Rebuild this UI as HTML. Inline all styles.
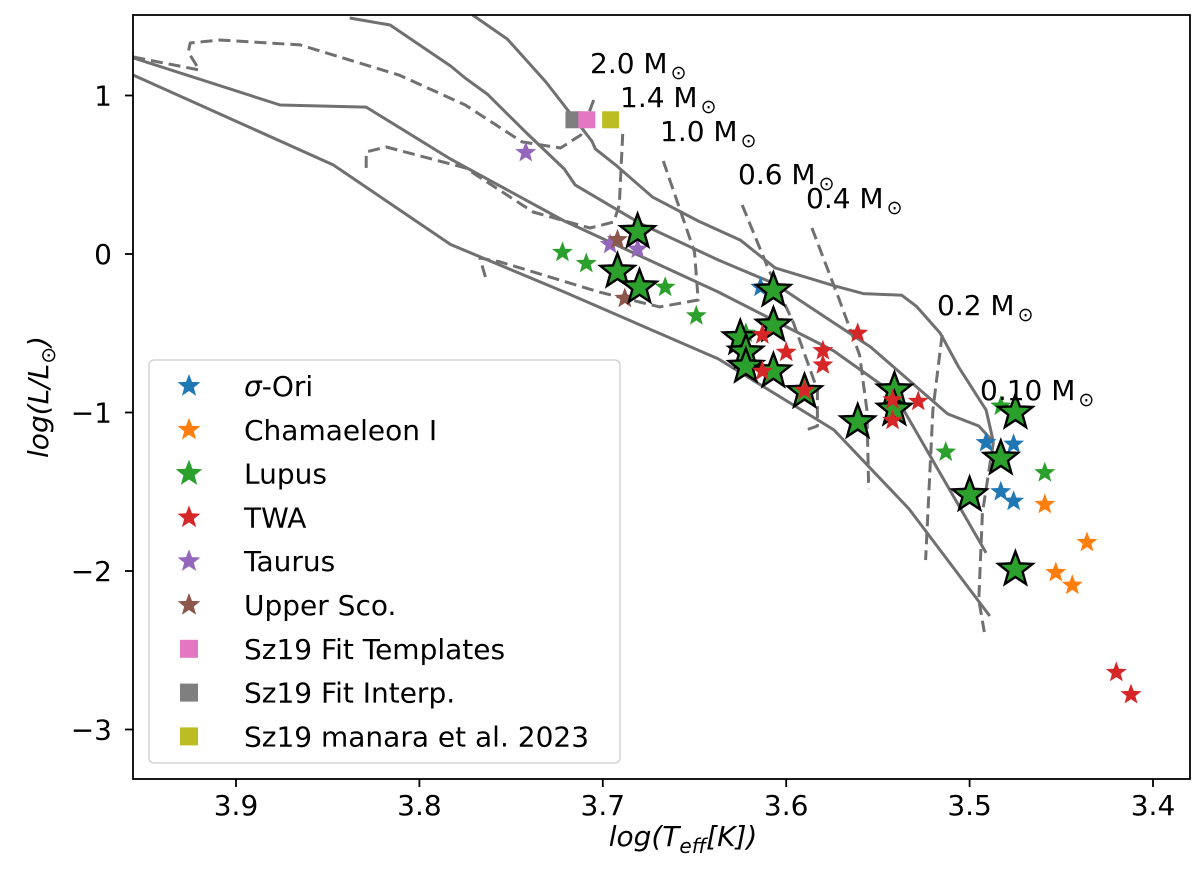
<!DOCTYPE html>
<html><head><meta charset="utf-8"><style>
html,body{margin:0;padding:0;background:#fff;}
svg{display:block;font-family:"DejaVu Sans","Liberation Sans",sans-serif;}
</style></head><body>
<svg id="chart" width="1200" height="887" viewBox="0 0 1200 887" xmlns="http://www.w3.org/2000/svg">
<defs><clipPath id="clip"><rect x="133" y="15" width="1057" height="764"/></clipPath></defs>
<rect width="1200" height="887" fill="#fff"/>
<g id="tracks" clip-path="url(#clip)"></g>
<g id="marks" clip-path="url(#clip)"></g>
<g id="labels"></g>
<rect x="133" y="15" width="1057" height="764" fill="none" stroke="#000" stroke-width="1.8"/>
<g id="axes"></g>
<g id="legend"></g>
<text x="683" y="846" font-size="28" text-anchor="middle" font-style="italic">log(T<tspan font-size="20" dy="7">eff</tspan><tspan dy="-7">[K])</tspan></text>
<text transform="translate(48,397) rotate(-90)" font-size="28" text-anchor="middle" font-style="italic">log(L/L<tspan font-size="20" dy="7" font-style="normal">⊙</tspan><tspan dy="-7">)</tspan></text>
</svg>
<script>
const xTicks=[3.9,3.8,3.7,3.6,3.5,3.4];
const yTicks=[1,0,-1,-2,-3];
const yTickLabels=["1","0","−1","−2","−3"];
const trackA_T=[3.771,3.752,3.731,3.706,3.704,3.693,3.673,3.648,3.625,3.606,3.574,3.558,3.537,3.529,3.516,3.506,3.491,3.487];
const trackA_L=[1.508,1.356,1.085,0.713,0.662,0.562,0.360,0.208,0.088,-0.088,-0.200,-0.250,-0.260,-0.330,-0.500,-0.713,-0.984,-1.186];
const trackB_T=[3.838,3.816,3.783,3.775,3.763,3.741,3.721,3.715,3.679,3.637,3.606,3.574,3.554,3.512,3.495,3.487];
const trackB_L=[1.489,1.445,1.186,1.110,1.009,0.757,0.536,0.435,0.189,-0.038,-0.189,-0.435,-0.587,-1.009,-1.085,-1.186];
const trackC_T=[3.956,3.876,3.829,3.783,3.721,3.637,3.574,3.541,3.491];
const trackC_L=[1.237,0.940,0.927,0.599,0.208,-0.240,-0.612,-0.883,-1.886];
const trackD_T=[3.956,3.847,3.783,3.721,3.637,3.574,3.533,3.489];
const trackD_L=[1.129,0.562,0.060,-0.240,-0.662,-1.110,-1.609,-2.284];
const m20_T=[3.956,3.920,3.926,3.925,3.909,3.865,3.811,3.775,3.744,3.723,3.712,3.704];
const m20_L=[1.243,1.161,1.274,1.331,1.350,1.319,1.129,0.940,0.707,0.669,0.751,1.003];
const m14_T=[3.829,3.829,3.818,3.775,3.738,3.707,3.694,3.691,3.689];
const m14_L=[0.543,0.644,0.675,0.543,0.265,0.164,0.202,0.309,0.795];
const m10_T=[3.764,3.767,3.756,3.702,3.680,3.669,3.648,3.650,3.667];
const m10_L=[-0.145,-0.025,-0.050,-0.240,-0.303,-0.334,-0.290,0.013,0.587];
const m06_T=[3.624,3.610,3.596,3.583,3.583,3.589];
const m06_L=[0.309,-0.088,-0.435,-0.858,-1.085,-1.110];
const m04_T=[3.586,3.571,3.560,3.556,3.555];
const m04_L=[0.164,-0.290,-0.637,-0.984,-1.483];
const m02_T=[3.515,3.520,3.524];
const m02_L=[-0.511,-0.984,-1.931];
const m01_T=[3.487,3.493,3.495,3.492];
const m01_L=[-1.186,-1.634,-2.183,-2.385];
const sigOri_T=[3.614,3.491,3.476,3.483,3.476];
const sigOri_L=[-0.21,-1.19,-1.20,-1.50,-1.56];
const cha_T=[3.459,3.436,3.453,3.444];
const cha_L=[-1.58,-1.82,-2.01,-2.09];
const lupusS_T=[3.722,3.709,3.666,3.649,3.622,3.483,3.513,3.459];
const lupusS_L=[0.01,-0.06,-0.21,-0.39,-0.50,-0.96,-1.25,-1.38];
const lupusB_T=[3.681,3.692,3.680,3.607,3.607,3.625,3.622,3.622,3.607,3.590,3.561,3.541,3.541,3.475,3.483,3.500,3.475];
const lupusB_L=[0.14,-0.11,-0.21,-0.23,-0.45,-0.53,-0.62,-0.71,-0.74,-0.87,-1.06,-0.86,-0.98,-1.00,-1.29,-1.52,-1.99];
const twa_T=[3.613,3.600,3.613,3.580,3.580,3.590,3.561,3.542,3.542,3.528,3.420,3.412];
const twa_L=[-0.51,-0.62,-0.74,-0.61,-0.70,-0.86,-0.50,-0.92,-1.05,-0.93,-2.64,-2.78];
const tau_T=[3.742,3.696,3.681];
const tau_L=[0.64,0.06,0.03];
const usco_T=[3.692,3.688];
const usco_L=[0.09,-0.28];
const sqTemplates=[3.709,0.85], sqInterp=[3.716,0.85], sqManara=[3.696,0.85];
const massLabels=["2.0 M","1.4 M","1.0 M","0.6 M","0.4 M","0.2 M","0.10 M"];

const NS="http://www.w3.org/2000/svg";
const X=t=>236+(3.9-t)*1834;
const Y=l=>254-l*158.5;
function el(tag,attrs,parent){const e=document.createElementNS(NS,tag);for(const k in attrs)e.setAttribute(k,attrs[k]);parent.appendChild(e);return e;}
const tracks=document.getElementById('tracks'),marks=document.getElementById('marks'),axes=document.getElementById('axes'),labels=document.getElementById('labels'),legend=document.getElementById('legend');
function line(T,L,dashed,name){
  const d=T.map((t,i)=>(i?'L':'M')+X(t).toFixed(1)+','+Y(L[i]).toFixed(1)).join('');
  const p=el('path',{d:d,fill:'none',stroke:'#707070','stroke-width':3,'stroke-linejoin':'round'},tracks);
  if(dashed)p.setAttribute('stroke-dasharray','12,6');
  
  
}
line(trackA_T,trackA_L,false,'track-a');line(trackB_T,trackB_L,false,'track-b');line(trackC_T,trackC_L,false,'track-c');line(trackD_T,trackD_L,false,'track-d');
line(m20_T,m20_L,true,'mass-track-2.0');line(m14_T,m14_L,true,'mass-track-1.4');line(m10_T,m10_L,true,'mass-track-1.0');line(m06_T,m06_L,true,'mass-track-0.6');line(m04_T,m04_L,true,'mass-track-0.4');line(m02_T,m02_L,true,'mass-track-0.2');line(m01_T,m01_L,true,'mass-track-0.10');
function starD(cx,cy,r){let s='';for(let i=0;i<10;i++){const rr=i%2?r*0.42:r;const a=-Math.PI/2+i*Math.PI/5;s+=(i?'L':'M')+(cx+rr*Math.cos(a)).toFixed(1)+','+(cy+rr*Math.sin(a)).toFixed(1);}return s+'Z';}
function star(parent,cx,cy,r,fill,outline,name){const p=el('path',{d:starD(cx,cy,r),fill:fill},parent);if(outline){p.setAttribute('stroke','#000');p.setAttribute('stroke-width',2.4);p.setAttribute('stroke-linejoin','miter');}}
function series(T,L,r,fill,outline,name){T.forEach((t,i)=>star(marks,X(t),Y(L[i]),r,fill,outline,name));}
function sq(v,fill,name){const r=el('rect',{x:X(v[0])-8,y:Y(v[1])-8,width:17,height:17,fill:fill},marks);}
sq(sqInterp,'#7f7f7f','sz19-interp-square');sq(sqTemplates,'#e377c2','sz19-templates-square');sq(sqManara,'#bcbd22','sz19-manara-square');
series(tau_T,tau_L,11,'#9467bd',false,'taurus-star');
series(usco_T,usco_L,11,'#8c564b',false,'upper-sco-star');
series(sigOri_T,sigOri_L,11,'#1f77b4',false,'sigma-ori-star');
series(cha_T,cha_L,11,'#ff7f0e',false,'chamaeleon-star');
series(lupusS_T,lupusS_L,11,'#2ca02c',false,'lupus-star');
series(lupusB_T,lupusB_L,18,'#2ca02c',true,'lupus-outlined-star');
series(twa_T,twa_L,11,'#d62728',false,'twa-star');
const lblPos=[[590,73],[620,107],[660,141],[738,184],[806,208],[937,315],[980,400]];
massLabels.forEach((s,i)=>{const t=el('text',{x:lblPos[i][0],y:lblPos[i][1],'font-size':28,fill:'#000'},labels);t.textContent=s;const ts=el('tspan',{'font-size':19,dx:3,dy:6},t);ts.textContent='⊙';});
xTicks.forEach(v=>{const x=X(v);const tk=el('line',{x1:x,x2:x,y1:779,y2:787,stroke:'#000','stroke-width':1.8},axes);const t=el('text',{x:x,y:815,'font-size':28,'text-anchor':'middle'},axes);t.textContent=v.toFixed(1);});
yTicks.forEach((v,i)=>{const y=Y(v);const tk=el('line',{x1:125,x2:133,y1:y,y2:y,stroke:'#000','stroke-width':1.8},axes);const t=el('text',{x:112,y:y+10,'font-size':28,'text-anchor':'end'},axes);t.textContent=yTickLabels[i];});
const lgNames=["σ-Ori","Chamaeleon I","Lupus","TWA","Taurus","Upper Sco.","Sz19 Fit Templates","Sz19 Fit Interp.","Sz19 manara et al. 2023"];
const lgColors=['#1f77b4','#ff7f0e','#2ca02c','#d62728','#9467bd','#8c564b','#e377c2','#7f7f7f','#bcbd22'];
const box=el('rect',{x:149,y:360,width:471,height:403,rx:5,fill:'#fff','fill-opacity':0.85,stroke:'#ccc','stroke-width':1.3},legend);

lgNames.forEach((n,i)=>{const y=386+i*43.8;
  if(i<6){star(legend,189,y,i==2?14:12,lgColors[i],false,'legend-marker');}
  else{const r=el('rect',{x:180,y:y-9,width:18,height:18,fill:lgColors[i]},legend);}
  const t=el('text',{x:244,y:y+10,'font-size':28},legend);
  if(i==0){const a=el('tspan',{'font-style':'italic'},t);a.textContent='σ';const b=el('tspan',{},t);b.textContent='-Ori';}else t.textContent=n;
  
});
</script>
</body></html>
